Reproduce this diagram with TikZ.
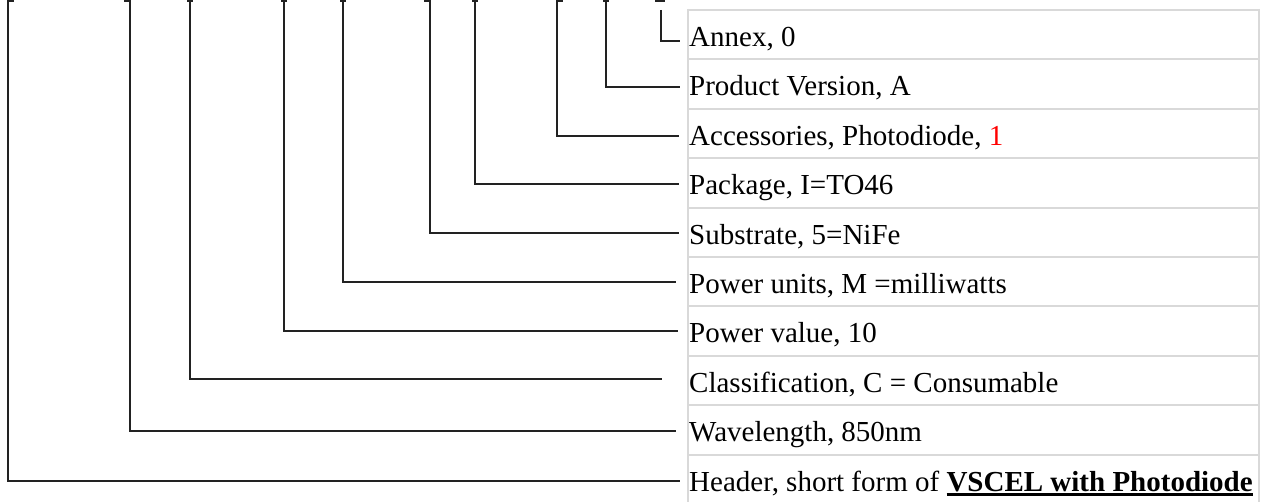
\documentclass[tikz,border=0pt]{standalone}
\usepackage{fontspec}
\setmainfont{Liberation Serif}
\usetikzlibrary{calc}
\definecolor{gridgray}{HTML}{D9D9D9}
\definecolor{conn}{HTML}{222222}
\definecolor{redone}{HTML}{FF0000}
\newcommand\ulbold[1]{\setbox0\hbox{\bfseries #1}\rlap{\rule[-4.6pt]{\wd0}{3pt}}\box0}
\begin{document}
\begin{tikzpicture}[x=1pt,y=-1pt,
  lbl/.style={anchor=base west, inner sep=0pt, font=\fontsize{29}{34}\selectfont},
  wire/.style={draw=conn, line width=1.3pt},
  gridline/.style={draw=gridgray, line width=2pt}]
\useasboundingbox (0,0) rectangle (1266,502);
% table grid
\foreach \i in {0,...,9} { \draw[gridline] (687,{10+49.4*\i}) -- (1260,{10+49.4*\i}); }
\draw[gridline] (688,9) -- (688,510);
\draw[gridline] (1259,9) -- (1259,510);
% labels
\node[lbl] (annex) at (689,46.5) {Annex, 0};
\node[lbl] (pver) at (689,95.9) {Product Version, A};
\node[lbl] (acc) at (689,145.3) {Accessories, Photodiode, \textcolor{redone}{1}};
\node[lbl] (pkg) at (689,194.7) {Package, I=TO46};
\node[lbl] (sub) at (689,244.1) {Substrate, 5=NiFe};
\node[lbl] (pu) at (689,293.5) {Power units, M =milliwatts};
\node[lbl] (pval) at (689,342.9) {Power value, 10};
\node[lbl] (cls) at (689,392.3) {Classification, C = Consumable};
\node[lbl] (wav) at (689,441.7) {Wavelength, 850nm};
\node[lbl] (hdr) at (689,491.1) {Header, short form of \ulbold{VSCEL with Photodiode}};
% top ends
\coordinate (tHdr) at (8,0);
\coordinate (tWav) at (130,0);
\coordinate (tCls) at (190,0);
\coordinate (tPval) at (284,0);
\coordinate (tPu) at (343,0);
\coordinate (tSub) at (430,0);
\coordinate (tPkg) at (475,0);
\coordinate (tAcc) at (557,0);
\coordinate (tPver) at (606,0);
\coordinate (tAnnex) at (661,10);
% small ticks at the top edge
\draw[wire] (8,1) -- (14,1);
\draw[wire] (124,1) -- (130,1);
\draw[wire] (187,1) -- (193,1);
\draw[wire] (281,1) -- (287,1);
\draw[wire] (340,1) -- (346,1);
\draw[wire] (424,1) -- (430,1);
\draw[wire] (472,1) -- (478,1);
\draw[wire] (557,1) -- (563,1);
\draw[wire] (603,1) -- (609,1);
\draw[wire] (655,1) -- (665,1);
% connectors
\draw[wire] (tHdr) |- ($(hdr.base west)+(-9,-10)$);
\draw[wire] (tWav) |- ($(wav.base west)+(-13,-10.7)$);
\draw[wire] (tCls) |- ($(cls.base west)+(-27,-13.3)$);
\draw[wire] (tPval) |- ($(pval.base west)+(-11,-11.9)$);
\draw[wire] (tPu) |- ($(pu.base west)+(-13,-11.5)$);
\draw[wire] (tSub) |- ($(sub.base west)+(-10,-11.1)$);
\draw[wire] (tPkg) |- ($(pkg.base west)+(-10,-10.7)$);
\draw[wire] (tAcc) |- ($(acc.base west)+(-10,-9.3)$);
\draw[wire] (tPver) |- ($(pver.base west)+(-9,-8.9)$);
\draw[wire] (tAnnex) |- ($(annex.base west)+(-9,-5.5)$);
\end{tikzpicture}
\end{document}
